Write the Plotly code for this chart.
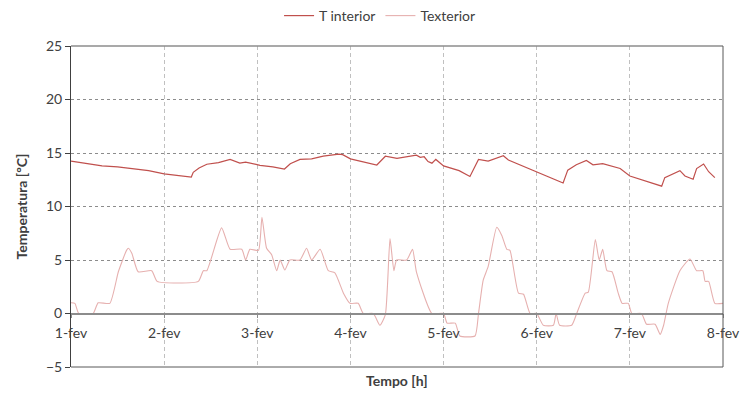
import plotly.graph_objects as go

# Hours since 1-fev 00:00 and temperatures (ºC)
hours_int = [0, 4, 8, 12, 16, 20, 24, 28, 31, 31.5, 33, 35, 38, 41, 43.5, 45, 48.7,
             52, 55, 56.5, 59, 62, 65, 69, 70, 72, 76, 78.8, 81, 84, 89, 90, 91, 92,
             93, 94, 96, 98, 100, 102.8, 105, 107.5, 111.4, 112.7, 115.7, 120, 126.8,
             128, 130.2, 132.8, 134.5, 137, 141.5, 144, 149, 152.2, 153, 156.9, 158.2,
             160.3, 161.2, 163, 164.3, 165.9]
t_interior = [14.25, 14.0, 13.8, 13.7, 13.5, 13.35, 13.05, 12.9, 12.75, 13.2, 13.6, 13.95,
              14.1, 14.4, 14.05, 14.15, 13.85, 13.7, 13.5, 14.0, 14.4, 14.45, 14.7, 14.9,
              14.85, 14.45, 14.1, 13.88, 14.7, 14.5, 14.8, 14.6, 14.65, 14.2, 14.05, 14.4,
              13.8, 13.6, 13.35, 12.8, 14.4, 14.25, 14.75, 14.35, 13.9, 13.2, 12.2, 13.4,
              13.9, 14.3, 13.9, 14.0, 13.55, 12.85, 12.3, 11.9, 12.7, 13.35, 12.85, 12.55,
              13.55, 13.97, 13.25, 12.7]

hours_ext = [0, 1, 2, 5.7, 7, 10, 12.2, 14.3, 14.8, 15.7, 17.3, 20.8, 22.2, 32.8, 34.1, 35,
             38.8, 41, 44, 45, 46.1, 48.3, 49.2, 50.4, 51.7, 53, 53.9, 55.1, 56.4, 59, 60.7,
             62, 64.2, 66.3, 68, 70.2, 71.9, 74, 75.3, 77.9, 79.6, 81, 82.2, 83.2, 83.9,
             86.5, 88, 89, 93, 96, 96.9, 99, 100.2, 104.1, 105, 106.2, 107.5, 109.7, 111,
             112.3, 113.1, 115.3, 116.6, 118.3, 120, 121.7, 124.3, 125, 125.9, 129, 130.3,
             132.5, 133.3, 135.1, 136.1, 137, 138.1, 139.4, 141, 142, 143.6, 144.5, 147,
             148.3, 150.5, 151.8, 152.7, 153.9, 156.9, 159.5, 161.2, 162.8, 163.4, 164.3,
             165.9, 168]
t_exterior = [1.0, 0.95, 0.0, 0.0, 1.0, 0.95, 3.9, 5.9, 6.1, 5.6, 3.9, 4.0, 3.0, 3.0, 4.0, 4.0,
              8.0, 6.0, 6.0, 5.0, 6.0, 5.9, 9.0, 6.1, 5.5, 4.0, 5.0, 4.07, 5.0, 5.0, 6.1,
              5.0, 6.0, 4.0, 3.8, 1.9, 0.95, 0.95, 0.0, 0.0, -1.1, -0.1, 7.0, 4.0, 5.0,
              5.0, 6.0, 3.9, 0.0, 0.0, -0.9, -0.9, -2.1, -2.1, 0.0, 3.1, 4.4, 8.06, 7.3,
              6.0, 5.9, 1.9, 1.8, 0.0, 0.0, -1.1, -1.1, 0.0, -1.1, -1.1, 0.0,
              1.9, 2.0, 6.9, 5.0, 6.0, 4.0, 3.9, 1.9, 0.95, 0.95, 0.0, 0.0,
              -1.0, -1.0, -1.95, -1.1, 0.95, 4.0, 5.1, 4.0, 4.0, 3.0, 3.0,
              0.95, 0.95]

day_ticks = [0, 24, 48, 72, 96, 120, 144, 168]
day_labels = ["1-fev", "2-fev", "3-fev", "4-fev", "5-fev", "6-fev", "7-fev", "8-fev"]
y_ticks = [-5, 0, 5, 10, 15, 20, 25]

FONT = "Lato"
TXT = "#404040"

fig = go.Figure()
fig.add_trace(go.Scatter(x=hours_int, y=t_interior, mode="lines", name="T interior",
                         line=dict(color="#C0504D", width=1.2)))
fig.add_trace(go.Scatter(x=hours_ext, y=t_exterior, mode="lines", name="Texterior",
                         line=dict(color="#E6B0AF", width=1.1, shape="spline", smoothing=0.5)))

fig.update_layout(
    width=742, height=393,
    margin=dict(l=71, r=19, t=46, b=26, autoexpand=False),
    paper_bgcolor="white", plot_bgcolor="white",
    font=dict(family=FONT, size=14, color=TXT),
    showlegend=True,
    legend=dict(orientation="h", x=0.474, xanchor="center", y=1.0, yref="container",
                yanchor="top", font=dict(size=14, color=TXT), itemwidth=30),
    xaxis=dict(
        range=[0, 168], tickvals=day_ticks, ticktext=day_labels,
        anchor="free", position=5 / 30, automargin=False,
        showline=True, linecolor="#8c8c8c", linewidth=1.5,
        ticks="outside", ticklen=4, tickcolor="#8c8c8c",
        showgrid=True, gridcolor="#c0c0c0", griddash="4px,3px", gridwidth=1.2,
        zeroline=False, tickfont=dict(size=14, color=TXT), ticklabelstandoff=3,
    ),
    yaxis=dict(
        range=[-5, 25], tickvals=y_ticks, domain=[0, 1], automargin=False,
        showline=True, linecolor="#404040", linewidth=1,
        ticks="outside", ticklen=5, tickcolor="#404040",
        showgrid=True, gridcolor="#8c8c8c", griddash="3px,3px", gridwidth=1,
        zeroline=False, tickfont=dict(size=14, color=TXT),
        title=dict(text="<b>Temperatura [ºC]</b>", font=dict(size=14, color=TXT), standoff=15),
    ),
)

# Plot frame: top, right and bottom borders
fig.add_shape(type="line", xref="paper", yref="paper", x0=0, x1=1, y0=1, y1=1,
              line=dict(color="#8c8c8c", width=1.5))
fig.add_shape(type="line", xref="paper", yref="paper", x0=1, x1=1, y0=0, y1=1,
              line=dict(color="#595959", width=1))
fig.add_shape(type="line", xref="paper", yref="paper", x0=0, x1=1, y0=0, y1=0,
              line=dict(color="#595959", width=1))

fig.add_annotation(text="<b>Tempo [h]</b>", xref="paper", yref="paper", x=0.5, y=0,
                   yshift=-13, yanchor="middle", showarrow=False,
                   font=dict(size=14, color=TXT))

fig.write_html("out.html")
